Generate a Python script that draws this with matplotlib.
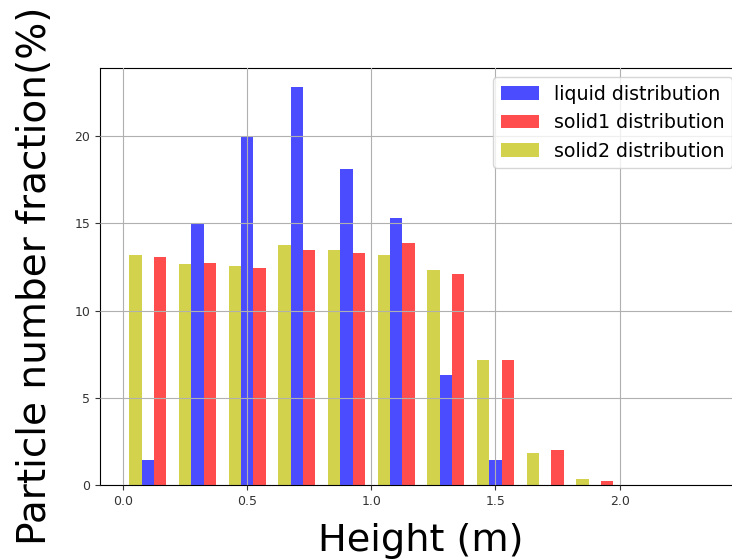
import matplotlib
matplotlib.use("Agg")
import matplotlib.pyplot as plt
import numpy as np

# bin edges of the height histogram (m)
bin_edges = np.arange(0.0, 2.41, 0.2)
bin_centers = bin_edges[:-1] + 0.1

# particle number fraction per height bin (%)
liquid = [1.45, 15.0, 19.95, 22.8, 18.15, 15.3, 6.3, 1.45, 0, 0, 0, 0]
solid1 = [13.1, 12.75, 12.45, 13.45, 13.3, 13.85, 12.1, 7.15, 2.0, 0.25, 0, 0]
solid2 = [13.2, 12.65, 12.55, 13.75, 13.45, 13.2, 12.35, 7.15, 1.85, 0.35, 0, 0]

width = 0.05

fig = plt.figure(figsize=(7.32, 5.6), dpi=100)
ax = fig.add_axes([0.1366, 0.1339, 0.877, 0.7455])

ax.bar(bin_centers, liquid, width=width, color='b', alpha=0.7, label='liquid distribution')
ax.bar(bin_centers + width, solid1, width=width, color='r', alpha=0.7, label='solid1 distribution')
ax.bar(bin_centers - width, solid2, width=width, color='y', alpha=0.7, label='solid2 distribution')

ax.set_xticks([0.0, 0.5, 1.0, 1.5, 2.0])
ax.set_yticks([0, 5, 10, 15, 20])
ax.tick_params(labelsize=9, colors='#333333')
ax.grid(True)
ax.set_axisbelow(False)

ax.set_xlabel('Height (m)', fontsize=27.5, labelpad=11)
ax.set_ylabel('Particle number fraction(%)', fontsize=28.1, labelpad=15)
ax.legend(loc='upper right', fontsize=13.7)

fig.savefig('out.png', dpi=100)
